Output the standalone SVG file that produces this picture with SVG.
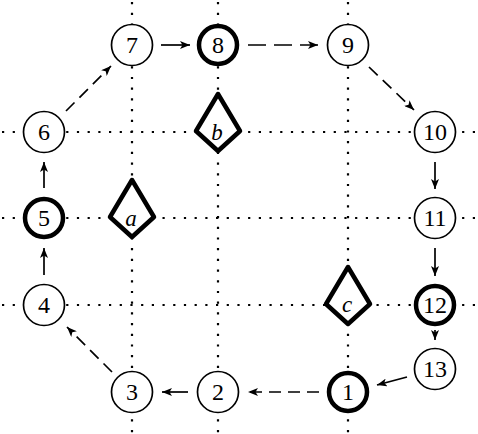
<svg xmlns="http://www.w3.org/2000/svg" width="478" height="434" viewBox="0 0 478 434">
<defs>
<style>
.grid{stroke:#000;stroke-width:2.2;stroke-dasharray:2.2 8.5;fill:none}
.n{fill:#fff;stroke:#000;stroke-width:1.7}
.nt{fill:#fff;stroke:#000;stroke-width:4.5}
.k{fill:#fff;stroke:#000;stroke-width:4.5;stroke-linejoin:round}
.lbl{font-family:"Liberation Serif",serif;font-size:24px;text-anchor:middle;fill:#000}
.it{font-family:"Liberation Serif",serif;font-style:italic;font-size:23px;text-anchor:middle;fill:#000}
.e{stroke:#000;stroke-width:1.7;fill:none;marker-end:url(#ah)}
.d{stroke-dasharray:12 7}
.dl{stroke-dasharray:18 8}
</style>
<marker id="ah" markerUnits="userSpaceOnUse" viewBox="0 0 10 8" refX="10" refY="4" markerWidth="10" markerHeight="8" orient="auto">
<path d="M0,0 L10,4 L0,8 L2.5,4 Z" fill="#000"/>
</marker>
</defs>
<g id="grid">
<line class="grid" x1="132" y1="2" x2="132" y2="434"/>
<line class="grid" x1="218" y1="2" x2="218" y2="434"/>
<line class="grid" x1="348" y1="2" x2="348" y2="434"/>
<line class="grid" x1="2" y1="132" x2="478" y2="132"/>
<line class="grid" x1="2" y1="218" x2="478" y2="218"/>
<line class="grid" x1="2" y1="305" x2="478" y2="305"/>
</g>
<g id="connectors">
<line class="e" x1="161" y1="45" x2="190" y2="45"/>
<line class="e dl" x1="248" y1="45" x2="318" y2="45"/>
<line class="e d" x1="369" y1="67" x2="414" y2="110"/>
<line class="e" x1="435" y1="162" x2="435" y2="189"/>
<line class="e" x1="435" y1="248" x2="435" y2="276"/>
<line class="e" x1="435" y1="330" x2="435" y2="340"/>
<line class="e" x1="407" y1="377" x2="377" y2="385"/>
<line class="e d" x1="319" y1="392" x2="248" y2="392"/>
<line class="e" x1="188" y1="392" x2="162" y2="392"/>
<line class="e d" x1="112" y1="372" x2="67" y2="327"/>
<line class="e" x1="44" y1="275" x2="44" y2="248"/>
<line class="e" x1="44" y1="188" x2="44" y2="162"/>
<line class="e d" x1="66" y1="111" x2="111" y2="66"/>
</g>
<g id="node-a"><path class="k" d="M132,180 L154,217 L132,237 L110,217 Z"/><text class="it" x="131" y="226">a</text></g>
<g id="node-b"><path class="k" d="M218,94 L240,131 L218,151 L196,131 Z"/><text class="it" x="217" y="140">b</text></g>
<g id="node-c"><path class="k" d="M348,267 L370,304 L348,324 L326,304 Z"/><text class="it" x="347" y="312">c</text></g>
<g id="node-1"><circle class="nt" cx="348" cy="392" r="19"/><text class="lbl" x="348" y="400">1</text></g>
<g id="node-2"><circle class="n" cx="218" cy="392" r="20.5"/><text class="lbl" x="218" y="400">2</text></g>
<g id="node-3"><circle class="n" cx="132" cy="392" r="20.5"/><text class="lbl" x="132" y="400">3</text></g>
<g id="node-4"><circle class="n" cx="44" cy="305" r="20.5"/><text class="lbl" x="44" y="313">4</text></g>
<g id="node-5"><circle class="nt" cx="44" cy="218" r="19"/><text class="lbl" x="44" y="226">5</text></g>
<g id="node-6"><circle class="n" cx="44" cy="132" r="20.5"/><text class="lbl" x="44" y="140">6</text></g>
<g id="node-7"><circle class="n" cx="132" cy="45" r="20.5"/><text class="lbl" x="132" y="53">7</text></g>
<g id="node-8"><circle class="nt" cx="218" cy="45" r="19"/><text class="lbl" x="218" y="53">8</text></g>
<g id="node-9"><circle class="n" cx="348" cy="45" r="20.5"/><text class="lbl" x="348" y="53">9</text></g>
<g id="node-10"><circle class="n" cx="435" cy="132" r="20.5"/><text class="lbl" x="435" y="140">10</text></g>
<g id="node-11"><circle class="n" cx="435" cy="218" r="20.5"/><text class="lbl" x="435" y="226">11</text></g>
<g id="node-12"><circle class="nt" cx="435" cy="305" r="19"/><text class="lbl" x="435" y="313">12</text></g>
<g id="node-13"><circle class="n" cx="435" cy="369" r="20.5"/><text class="lbl" x="435" y="377">13</text></g>
</svg>
